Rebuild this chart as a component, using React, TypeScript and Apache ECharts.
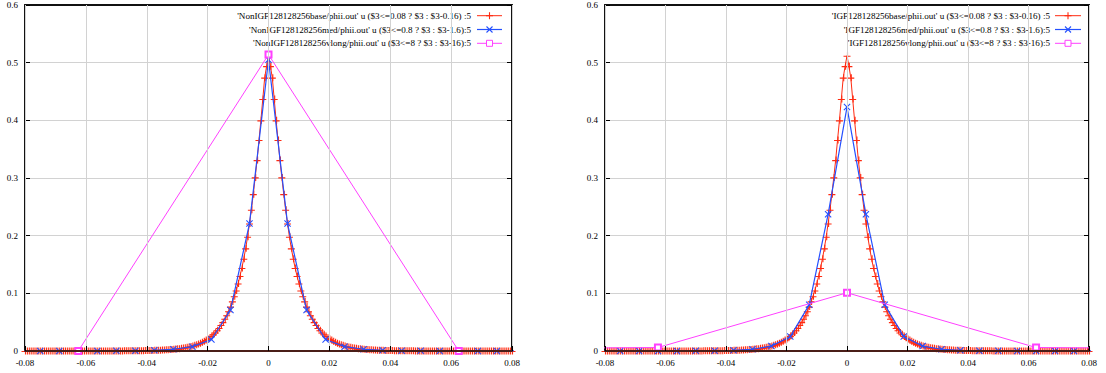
import React, { useEffect, useRef } from "react";
import * as echarts from "echarts";

// x spacing of each data file
const BASE_STEP = 0.000625;
const MED_STEP = 0.00625;
const VLONG_STEP = 0.0625;

// values at x = k * step, k = 0, 1, 2, ... (curves are symmetric about x = 0)
const nonIgfBaseHalf = [
  0.512, 0.494, 0.474, 0.437, 0.400, 0.366, 0.331, 0.301, 0.272, 0.245,
  0.221, 0.198, 0.178, 0.160, 0.144, 0.130, 0.117, 0.105, 0.095, 0.086,
  0.077, 0.069, 0.062, 0.056, 0.050, 0.045, 0.040, 0.036, 0.032, 0.029,
  0.026, 0.023, 0.021, 0.019, 0.017, 0.015, 0.0135, 0.012, 0.011, 0.0098,
  0.0088, 0.0079, 0.0071, 0.0064, 0.0057, 0.0051, 0.0046, 0.0041, 0.0037, 0.0033,
  0.0030, 0.0027, 0.0024, 0.0022, 0.0020, 0.0018, 0.0016, 0.0014, 0.0013, 0.0012,
  0.0011, 0.0010, 0.0009, 0.0008, 0.0007, 0.0007, 0.0006, 0.0006, 0.0005, 0.0005,
  0.0004, 0.0004, 0.0004, 0.0003, 0.0003, 0.0003, 0.0003, 0.0002, 0.0002, 0.0002,
  0.0002, 0.0002, 0.0002, 0.0002, 0.0002, 0.0001, 0.0001, 0.0001, 0.0001, 0.0001,
  0.0001, 0.0001, 0.0001, 0.0001, 0.0001, 0.0001, 0.0001, 0.0001, 0.0001, 0.0001,
  0.0001, 0.0001, 0.0001, 0.0001, 0.0001, 0.0001, 0.0001, 0.0001, 0.0001, 0.0001,
  0.0001, 0.0001, 0.0001, 0.0001, 0.0001, 0.0001, 0.0001, 0.0001, 0.0001, 0.0001,
  0.0001, 0.0001, 0.0001, 0.0001, 0.0001, 0.0001, 0.0001, 0.0001, 0.0001,
];
const nonIgfMedHalf = [0.505, 0.221, 0.071, 0.020, 0.0075, 0.003, 0.0012, 0.0005, 0.0003, 0.0002, 0.0001, 0.0001, 0.0001, 0.0001];
const nonIgfVlongHalf = [0.514, 0.0, 0.0];

const igfBaseHalf = [
  0.512, 0.494, 0.474, 0.437, 0.400, 0.366, 0.331, 0.301, 0.272, 0.245,
  0.221, 0.198, 0.178, 0.160, 0.144, 0.130, 0.117, 0.105, 0.095, 0.086,
  0.077, 0.069, 0.062, 0.056, 0.050, 0.045, 0.040, 0.036, 0.032, 0.029,
  0.026, 0.023, 0.021, 0.019, 0.017, 0.015, 0.0135, 0.012, 0.011, 0.0098,
  0.0088, 0.0079, 0.0071, 0.0064, 0.0057, 0.0051, 0.0046, 0.0041, 0.0037, 0.0033,
  0.0030, 0.0027, 0.0024, 0.0022, 0.0020, 0.0018, 0.0016, 0.0014, 0.0013, 0.0012,
  0.0011, 0.0010, 0.0009, 0.0008, 0.0007, 0.0007, 0.0006, 0.0006, 0.0005, 0.0005,
  0.0004, 0.0004, 0.0004, 0.0003, 0.0003, 0.0003, 0.0003, 0.0002, 0.0002, 0.0002,
  0.0002, 0.0002, 0.0002, 0.0002, 0.0002, 0.0001, 0.0001, 0.0001, 0.0001, 0.0001,
  0.0001, 0.0001, 0.0001, 0.0001, 0.0001, 0.0001, 0.0001, 0.0001, 0.0001, 0.0001,
  0.0001, 0.0001, 0.0001, 0.0001, 0.0001, 0.0001, 0.0001, 0.0001, 0.0001, 0.0001,
  0.0001, 0.0001, 0.0001, 0.0001, 0.0001, 0.0001, 0.0001, 0.0001, 0.0001, 0.0001,
  0.0001, 0.0001, 0.0001, 0.0001, 0.0001, 0.0001, 0.0001, 0.0001, 0.0001,
];
const igfMedHalf = [0.423, 0.237, 0.080, 0.025, 0.0085, 0.003, 0.0012, 0.0005, 0.0003, 0.0002, 0.0001, 0.0001, 0.0001, 0.0001];
const igfVlongHalf = [0.101, 0.006, 0.004];

const leftLegend = [
  "'NonIGF128128256base/phii.out' u ($3<=0.08 ? $3 : $3-0.16) :5",
  "'NonIGF128128256med/phii.out' u ($3<=0.8 ? $3 : $3-1.6):5",
  "'NonIGF128128256vlong/phii.out' u ($3<=8 ? $3 : $3-16):5",
];
const rightLegend = [
  "'IGF128128256base/phii.out' u ($3<=0.08 ? $3 : $3-0.16) :5",
  "'IGF128128256med/phii.out' u ($3<=0.8 ? $3 : $3-1.6):5",
  "'IGF128128256vlong/phii.out' u ($3<=8 ? $3 : $3-16):5",
];

const X_MIN = -0.08;
const X_MAX = 0.08;
const X_INTERVAL = 0.02;
const Y_MIN = 0;
const Y_MAX = 0.6;
const Y_INTERVAL = 0.1;

const RED = "#ff2a10";
const BLUE = "#2450ff";
const PINK = "#ff40ff";
const FONT = "'Liberation Serif', 'DejaVu Serif', serif";

const PLUS = "path://M0,3.45H7V4.55H0Z M3.45,0H4.55V7H3.45Z";
const CROSS = "path://M0,0.75L0.75,0L7,6.25L6.25,7Z M6.25,0L7,0.75L0.75,7L0,6.25Z";

function mirror(half: number[], step: number): number[][] {
  const pts: number[][] = [];
  const n = half.length;
  for (let k = -(n - 1); k <= n - 1; k++) {
    pts.push([k * step, half[Math.abs(k)]]);
  }
  return pts;
}

const fmt = (v: number) => String(Number(v.toFixed(2)));

function gridAxes(gi: number) {
  const bottom = {
    type: "value",
    gridIndex: gi,
    position: "bottom",
    min: X_MIN,
    max: X_MAX,
    interval: X_INTERVAL,
    z: 5,
    axisLine: { show: true, onZero: false, lineStyle: { color: "#4a1e18", width: 2 } },
    axisTick: { show: true, inside: true, length: 5, lineStyle: { color: "#000", width: 1 } },
    axisLabel: { show: true, margin: 7, color: "#000", fontFamily: FONT, fontSize: 9, formatter: fmt },
    splitLine: { show: true, lineStyle: { color: "#d2d2d2", width: 1 } },
  };
  const top = {
    type: "value",
    gridIndex: gi,
    position: "top",
    min: X_MIN,
    max: X_MAX,
    interval: X_INTERVAL,
    axisLine: { show: true, onZero: false, lineStyle: { color: "#111", width: 2 } },
    axisTick: { show: true, inside: true, length: 5, lineStyle: { color: "#000", width: 1 } },
    axisLabel: { show: false },
    splitLine: { show: false },
  };
  const left = {
    type: "value",
    gridIndex: gi,
    position: "left",
    min: Y_MIN,
    max: Y_MAX,
    interval: Y_INTERVAL,
    axisLine: { show: true, onZero: false, lineStyle: { color: "#111", width: 2 } },
    axisTick: { show: true, inside: true, length: 5, lineStyle: { color: "#000", width: 1 } },
    axisLabel: { show: true, margin: 7, color: "#000", fontFamily: FONT, fontSize: 9, formatter: fmt },
    splitLine: { show: true, lineStyle: { color: "#d2d2d2", width: 1 } },
  };
  const right = {
    type: "value",
    gridIndex: gi,
    position: "right",
    min: Y_MIN,
    max: Y_MAX,
    interval: Y_INTERVAL,
    axisLine: { show: true, onZero: false, lineStyle: { color: "#111", width: 2 } },
    axisTick: { show: true, inside: true, length: 5, lineStyle: { color: "#000", width: 1 } },
    axisLabel: { show: false },
    splitLine: { show: false },
  };
  return { x: [bottom, top], y: [left, right] };
}

function panelSeries(xi: number, yi: number, base: number[], med: number[], vlong: number[], names: string[]) {
  const common = {
    type: "line",
    xAxisIndex: xi,
    yAxisIndex: yi,
    showSymbol: true,
    showAllSymbol: true,
    silent: true,
    clip: true,
    emphasis: { disabled: true },
  };
  return [
    {
      ...common,
      name: names[0],
      data: mirror(base, BASE_STEP),
      symbol: PLUS,
      symbolSize: 7,
      lineStyle: { color: RED, width: 1 },
      itemStyle: { color: RED },
      z: 2,
    },
    {
      ...common,
      name: names[1],
      data: mirror(med, MED_STEP),
      symbol: CROSS,
      symbolSize: 7,
      lineStyle: { color: BLUE, width: 1.2 },
      itemStyle: { color: BLUE },
      z: 3,
    },
    {
      ...common,
      name: names[2],
      data: mirror(vlong, VLONG_STEP),
      symbol: "emptyRect",
      symbolSize: 6,
      lineStyle: { color: PINK, width: 1 },
      itemStyle: { color: PINK, borderWidth: 1 },
      z: 4,
    },
  ];
}

function legendGraphics(names: string[], textRight: number, lineStart: number, lineEnd: number, rows: number[]) {
  const els: any[] = [];
  const colors = [RED, BLUE, PINK];
  names.forEach((t, i) => {
    const y = rows[i];
    const cx = (lineStart + lineEnd) / 2;
    els.push({
      type: "text",
      x: textRight,
      y,
      silent: true,
      style: {
        text: t,
        align: "right",
        verticalAlign: "middle",
        textAlign: "right",
        textVerticalAlign: "middle",
        fontFamily: FONT,
        fontSize: 9.1,
        fill: "#000",
      },
    });
    els.push({
      type: "line",
      silent: true,
      shape: { x1: lineStart, y1: y, x2: lineEnd, y2: y },
      style: { stroke: colors[i], lineWidth: i === 1 ? 1.2 : 1 },
    });
    if (i === 0) {
      els.push({ type: "line", silent: true, shape: { x1: cx - 3.5, y1: y, x2: cx + 3.5, y2: y }, style: { stroke: RED, lineWidth: 1.1 } });
      els.push({ type: "line", silent: true, shape: { x1: cx, y1: y - 3.5, x2: cx, y2: y + 3.5 }, style: { stroke: RED, lineWidth: 1.1 } });
    } else if (i === 1) {
      els.push({ type: "line", silent: true, shape: { x1: cx - 3, y1: y - 3, x2: cx + 3, y2: y + 3 }, style: { stroke: BLUE, lineWidth: 1.1 } });
      els.push({ type: "line", silent: true, shape: { x1: cx - 3, y1: y + 3, x2: cx + 3, y2: y - 3 }, style: { stroke: BLUE, lineWidth: 1.1 } });
    } else {
      els.push({ type: "rect", silent: true, shape: { x: cx - 3, y: y - 3, width: 6, height: 6 }, style: { fill: "#fff", stroke: PINK, lineWidth: 1 } });
    }
  });
  return els;
}

export default function App() {
  const ref = useRef<HTMLDivElement>(null);
  useEffect(() => {
    if (!ref.current) return;
    const chart = echarts.init(ref.current, undefined, { renderer: "svg" });
    const a0 = gridAxes(0);
    const a1 = gridAxes(1);
    const rows = [15.7, 29.5, 43.3];
    const option = {
      animation: false,
      backgroundColor: "#ffffff",
      grid: [
        { left: 25, right: 1106 - 512, top: 5, bottom: 22, containLabel: false },
        { left: 605, right: 1106 - 1089, top: 5, bottom: 22, containLabel: false },
      ],
      xAxis: [...a0.x, ...a1.x],
      yAxis: [...a0.y, ...a1.y],
      series: [
        ...panelSeries(0, 0, nonIgfBaseHalf, nonIgfMedHalf, nonIgfVlongHalf, leftLegend),
        ...panelSeries(2, 2, igfBaseHalf, igfMedHalf, igfVlongHalf, rightLegend),
      ],
      graphic: [
        ...legendGraphics(leftLegend, 471, 477, 502, rows),
        ...legendGraphics(rightLegend, 1050, 1055, 1081, rows),
      ],
    };
    chart.setOption(option as any);
    return () => chart.dispose();
  }, []);
  return (
    <div
      ref={ref}
      style={{ position: "fixed", left: 0, top: 0, width: 1106, height: 373, background: "#fff" }}
    />
  );
}
